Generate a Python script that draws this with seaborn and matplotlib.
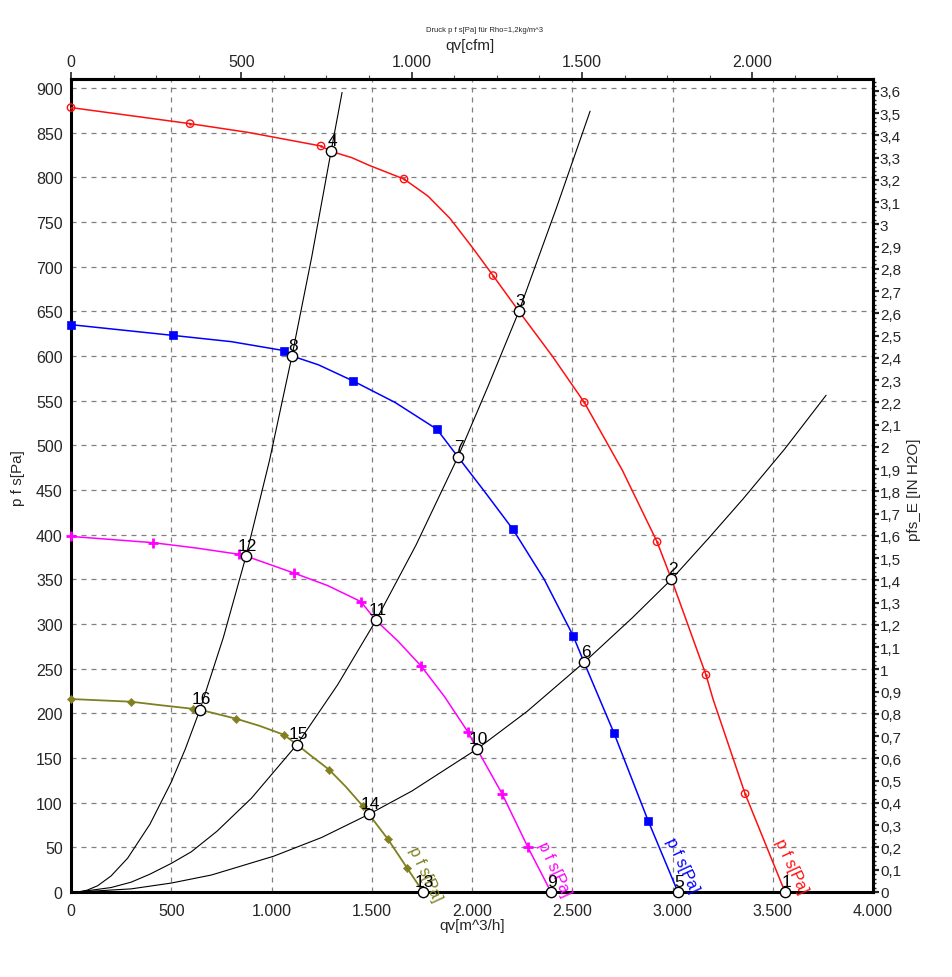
import matplotlib
matplotlib.use("Agg")
import matplotlib.pyplot as plt
import numpy as np
import pandas as pd
import seaborn as sns
from matplotlib.ticker import MultipleLocator, FuncFormatter, FixedLocator

sns.set_style("white")
plt.rcParams['font.family'] = ['Liberation Sans', 'DejaVu Sans']

# ---------------- data ----------------
# fan curves: volume flow qv [m^3/h] and static pressure p_fs [Pa]
red_q = [0, 594, 890, 1247, 1297, 1400, 1491, 1661, 1780, 1890, 2000, 2105, 2234, 2400, 2560, 2750, 2923, 2995, 3167, 3202, 3362, 3561]
red_p = [878, 860, 850, 835, 829, 822, 813, 798, 779, 754, 722, 690, 650, 600, 548, 472, 392, 350, 243, 216, 110, 0]
red_mq = [0, 594, 1247, 1661, 2105, 2560, 2923, 3167, 3362]
red_mp = [878, 860, 835, 798, 690, 548, 392, 243, 110]

blue_q = [0, 509, 800, 1062, 1102, 1235, 1407, 1616, 1825, 1930, 2060, 2204, 2360, 2504, 2559, 2708, 2878, 3027]
blue_p = [635, 623, 616, 606, 600, 590, 572, 548, 518, 487, 449, 406, 350, 287, 257, 178, 80, 0]
blue_mq = [0, 509, 1062, 1407, 1825, 2204, 2504, 2708, 2878]
blue_mp = [635, 623, 606, 572, 518, 406, 287, 178, 80]

mag_q = [0, 410, 625, 838, 873, 1112, 1280, 1446, 1521, 1630, 1746, 1865, 1980, 2025, 2150, 2279, 2394]
mag_p = [398, 391, 385, 378, 376, 357, 343, 325, 304, 281, 253, 218, 179, 160, 110, 50, 0]
mag_mq = [0, 410, 838, 1112, 1446, 1746, 1980, 2150, 2279]
mag_mp = [398, 391, 378, 357, 325, 253, 179, 110, 50]

olv_q = [0, 299, 450, 610, 643, 823, 940, 1062, 1127, 1200, 1287, 1370, 1456, 1486, 1581, 1676, 1756]
olv_p = [216, 213, 209, 205, 204, 194, 186, 176, 165, 152, 137, 118, 96, 87, 59, 27, 0]
olv_mq = [0, 299, 610, 823, 1062, 1287, 1456, 1581, 1676]
olv_mp = [216, 213, 205, 194, 176, 137, 96, 59, 27]

# system (resistance) curves
sysA_q = [35, 80, 133, 200, 283, 394, 500, 570, 643, 760, 873, 990, 1102, 1200, 1297, 1352]
sysA_p = [0, 2, 7, 18, 38, 76, 123, 160, 204, 285, 376, 483, 600, 710, 829, 895]
sysB_q = [35, 200, 300, 394, 500, 600, 728, 900, 1127, 1330, 1521, 1720, 1930, 2080, 2234, 2420, 2589]
sysB_p = [0, 5, 11, 20, 32, 45, 68, 105, 165, 232, 304, 388, 487, 566, 650, 765, 874]
sysC_q = [35, 300, 500, 700, 1010, 1250, 1486, 1700, 2025, 2274, 2559, 2800, 2995, 3180, 3352, 3560, 3766]
sysC_p = [0, 3.5, 10, 19, 40, 61, 87, 113, 160, 202, 257, 307, 350, 396, 440, 496, 556]

# operating points
op_id = [str(i) for i in range(1, 17)]
op_q = [3561, 2995, 2234, 1297, 3027, 2559, 1930, 1102, 2394, 2025, 1521, 873, 1756, 1486, 1127, 643]
op_p = [0, 350, 650, 829, 0, 257, 487, 600, 0, 160, 304, 376, 0, 87, 165, 204]

curve_label = "p f s[Pa]"
x_ticks = [0, 500, 1000, 1500, 2000, 2500, 3000, 3500, 4000]
cfm_ticks = [0, 500, 1000, 1500, 2000]

RED, BLUE, MAG, OLV = "#ff1010", "#0000ff", "#ff00ff", "#808020"

# ---------------- figure ----------------
W, H = 952, 978
fig = plt.figure(figsize=(W / 100, H / 100), dpi=100)
ax = fig.add_axes([71 / W, 1 - 893 / H, (873 - 71) / W, (893 - 80) / H])

def line(q, p, color, lw):
    df = pd.DataFrame({"q": q, "p": p})
    sns.lineplot(data=df, x="q", y="p", sort=False, estimator=None, color=color,
                 linewidth=lw, ax=ax, zorder=3)

for q, p in [(sysA_q, sysA_p), (sysB_q, sysB_p), (sysC_q, sysC_p)]:
    line(q, p, "black", 0.8)
line(red_q, red_p, RED, 1.1)
line(blue_q, blue_p, BLUE, 1.1)
line(mag_q, mag_p, MAG, 1.1)
line(olv_q, olv_p, OLV, 1.3)

def marks(q, p, **kw):
    df = pd.DataFrame({"q": q, "p": p})
    sns.scatterplot(data=df, x="q", y="p", ax=ax, zorder=4, clip_on=False, legend=False, **kw)

marks(red_mq, red_mp, marker="o", s=28, facecolor="none", edgecolor=RED, linewidth=1.0)
marks(red_mq, red_mp, marker="o", s=3, color=RED, edgecolor=RED)
marks(blue_mq, blue_mp, marker="s", s=36, color=BLUE, edgecolor=BLUE)
marks(mag_mq, mag_mp, marker="+", s=60, color=MAG, linewidth=2)
marks(olv_mq, olv_mp, marker="D", s=18, color=OLV, edgecolor=OLV)

marks(op_q, op_p, marker="o", s=55, facecolor="white", edgecolor="black", linewidth=1.0)
for t, q, p in zip(op_id, op_q, op_p):
    ax.annotate(t, (q, p), xytext=(1, 4.5), textcoords="offset points", ha="center",
                va="baseline", fontsize=12.5, color="black", zorder=6, annotation_clip=False)

# curve labels along the curves near the axis
for (q, p), c in zip([(3590, 30), (3050, 31), (2412, 26), (1768, 21)], [RED, BLUE, MAG, OLV]):
    ax.text(q, p, curve_label, color=c, fontsize=11.5, rotation=-65, ha="center", va="center",
            rotation_mode="anchor", clip_on=False, zorder=5)

# ---------------- axes ----------------
ax.set_xlim(0, 4000)
ax.set_ylim(0, 910)
ax.set_xlabel("")
ax.set_ylabel("")

ax.xaxis.set_major_locator(FixedLocator(x_ticks))
ax.xaxis.set_minor_locator(MultipleLocator(100))
ax.yaxis.set_major_locator(MultipleLocator(50))
ax.yaxis.set_minor_locator(MultipleLocator(10))

thou = FuncFormatter(lambda v, pos: f"{int(round(v)):,}".replace(",", "."))
ax.xaxis.set_major_formatter(thou)
ax.yaxis.set_major_formatter(FuncFormatter(lambda v, pos: f"{int(round(v))}"))

ax.grid(True, which="major", color="#808080", linestyle=(0, (4, 4)), linewidth=0.9)
for s in ax.spines.values():
    s.set_linewidth(2.2)
    s.set_color("black")
    s.set_visible(True)

ax.tick_params(axis="both", which="major", direction="out", length=5, width=1.6,
               labelsize=11.5, color="black", pad=1)
ax.tick_params(axis="both", which="minor", direction="out", length=3, width=1.0, color="#333333")
ax.tick_params(axis="x", which="major", pad=3)

# top axis: cfm
sec_x = ax.secondary_xaxis("top", functions=(lambda q: q / 1.699, lambda c: c * 1.699))
sec_x.xaxis.set_major_locator(FixedLocator(cfm_ticks))
sec_x.xaxis.set_minor_locator(MultipleLocator(125))
sec_x.xaxis.set_major_formatter(thou)
sec_x.tick_params(which="major", direction="out", length=5, width=1.2, labelsize=11.5, pad=2)
sec_x.tick_params(which="minor", direction="out", length=3, width=0.8, color="#555555")
sec_x.spines["top"].set_linewidth(2.2)

# right axis: inch H2O
def fmt_in(v, pos):
    s = f"{v:.1f}"
    if s.endswith(".0"):
        s = s[:-2]
    return s.replace(".", ",").replace("-0", "0")

sec_y = ax.secondary_yaxis("right", functions=(lambda p: p / 249.089, lambda w: w * 249.089))
sec_y.yaxis.set_major_locator(MultipleLocator(0.1))
sec_y.yaxis.set_minor_locator(MultipleLocator(0.02))
sec_y.yaxis.set_major_formatter(FuncFormatter(fmt_in))
sec_y.tick_params(which="major", direction="out", length=4, width=1.6, labelsize=11, pad=1)
sec_y.tick_params(which="minor", direction="out", length=2.5, width=1.0)
sec_y.spines["right"].set_linewidth(2.2)

# texts
fig.text(485 / W, 1 - 30 / H, "Druck p f s[Pa] für Rho=1,2kg/m^3", fontsize=5.5, ha="center", va="center")
fig.text(470 / W, 1 - 46 / H, "qv[cfm]", fontsize=11, ha="center", va="center")
fig.text(472 / W, 1 - 926 / H, "qv[m^3/h]", fontsize=11, ha="center", va="center")
fig.text(18 / W, 1 - 478 / H, "p f s[Pa]", fontsize=11, ha="center", va="center", rotation=90)
fig.text(914 / W, 1 - 490 / H, "pfs_E [IN H2O]", fontsize=11, ha="center", va="center", rotation=90)

fig.savefig("out.png", dpi=100, facecolor="white")
